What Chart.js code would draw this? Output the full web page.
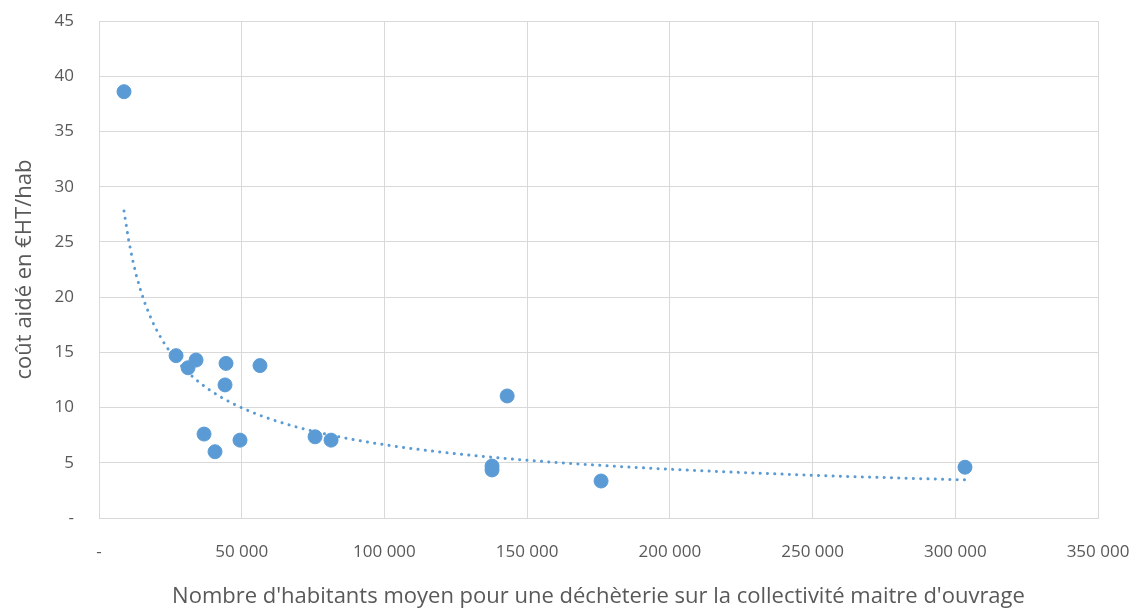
<!DOCTYPE html>
<html>
<head>
<meta charset="utf-8">
<script src="https://cdn.jsdelivr.net/npm/chart.js@4"></script>
<style>
  html, body { margin: 0; padding: 0; background: #fff; }
  #wrap { width: 1139px; height: 610px; }
</style>
</head>
<body>
<div id="wrap"><canvas id="chart" width="1139" height="610"></canvas></div>
<script>
// habitants moyens par déchèterie (x) et coût aidé €HT/hab (y)
const habitants = [8760, 27000, 31200, 34000, 44500, 44150, 36800, 40650, 49400, 56400, 75700, 81300, 137700, 137700, 143000, 175900, 303400];
const coutAide = [38.6, 14.7, 13.6, 14.3, 14.0, 12.05, 7.6, 6.0, 7.05, 13.8, 7.35, 7.05, 4.7, 4.35, 11.05, 3.35, 4.6];

const xTicks = [0, 50000, 100000, 150000, 200000, 250000, 300000, 350000];
const yTicks = [0, 5, 10, 15, 20, 25, 30, 35, 40, 45];

const points = habitants.map((h, i) => ({ x: h, y: coutAide[i] }));

// courbe de tendance puissance (régression ln y / ln x sur les points, comme Excel)
function powerFit(xs, ys) {
  const lx = xs.map(Math.log), ly = ys.map(Math.log);
  const n = xs.length;
  const mx = lx.reduce((a, b) => a + b, 0) / n;
  const my = ly.reduce((a, b) => a + b, 0) / n;
  let sxy = 0, sxx = 0;
  for (let i = 0; i < n; i++) { sxy += (lx[i] - mx) * (ly[i] - my); sxx += (lx[i] - mx) ** 2; }
  const b = sxy / sxx;
  const a = Math.exp(my - b * mx);
  return x => a * Math.pow(x, b);
}
const fit = powerFit(habitants, coutAide);
const xMin = Math.min(...habitants), xMax = Math.max(...habitants);
const trend = [];
for (let i = 0; i <= 200; i++) {
  const x = xMin + (xMax - xMin) * i / 200;
  trend.push({ x, y: fit(x) });
}

const fmt = v => v === 0 ? '-' : String(v).replace(/\B(?=(\d{3})+(?!\d))/g, ' ');
const txt = '#595959';
const grid = '#D9D9D9';
const font = { family: "'Open Sans', sans-serif", size: 17 };
const titleFont = { family: "'Open Sans', sans-serif", size: 22 };

new Chart(document.getElementById('chart'), {
  data: {
    datasets: [
      { type: 'scatter', data: points, backgroundColor: '#5B9BD5', borderColor: '#5B9BD5', pointRadius: 7, pointHoverRadius: 7, order: 1 },
      { type: 'line', data: trend, borderColor: '#5B9BD5', borderWidth: 3, borderDash: [0.1, 7.2], borderCapStyle: 'round', pointRadius: 0, fill: false, tension: 0, order: 2 }
    ]
  },
  options: {
    responsive: false,
    animation: false,
    layout: { padding: { top: 21, right: 41, left: 0, bottom: 0 } },
    plugins: { legend: { display: false }, tooltip: { enabled: false } },
    scales: {
      x: {
        type: 'linear', min: 0, max: 350000,
        afterBuildTicks: s => { s.ticks = xTicks.map(v => ({ value: v })); },
        afterFit: s => { s.height = 92; s.paddingLeft = 0; s.paddingRight = 0; },
        ticks: { color: txt, font, padding: 24, callback: v => fmt(v), maxRotation: 0 },
        grid: { color: grid, drawTicks: false },
        border: { color: grid },
        title: { display: true, text: "Nombre d'habitants moyen pour une déchèterie sur la collectivité maitre d'ouvrage", color: txt, font: titleFont, padding: { top: 0, bottom: 0 } }
      },
      y: {
        type: 'linear', min: 0, max: 45,
        afterBuildTicks: s => { s.ticks = yTicks.map(v => ({ value: v })); },
        afterFit: s => { s.width = 99; s.paddingTop = 0; s.paddingBottom = 0; },
        ticks: { color: txt, font, padding: 25, callback: v => fmt(v) },
        grid: { color: grid, drawTicks: false },
        border: { color: grid },
        title: { display: true, text: 'coût aidé en €HT/hab', color: txt, font: titleFont, padding: { top: 12, bottom: 0 } }
      }
    }
  }
});
</script>
</body>
</html>
